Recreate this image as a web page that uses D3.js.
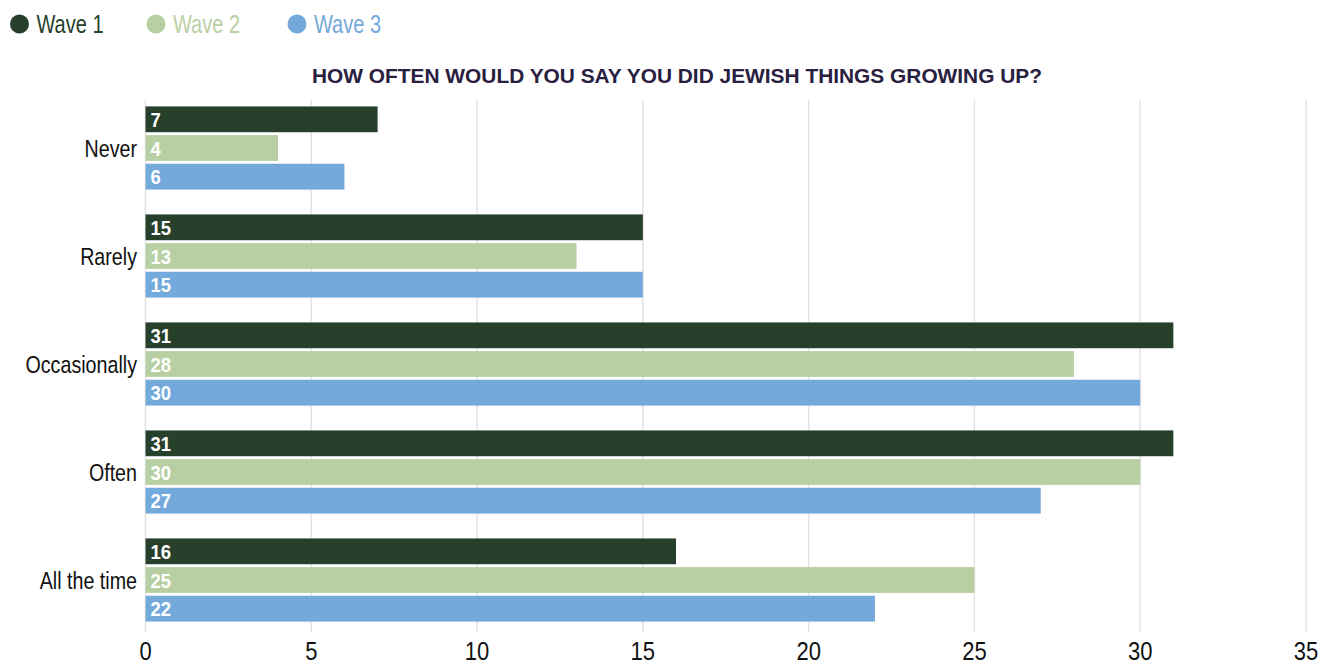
<!DOCTYPE html>
<html>
<head>
<meta charset="utf-8">
<script src="https://cdn.jsdelivr.net/npm/d3@7"></script>
<style>
  body { margin: 0; background: #fff; }
  svg { display: block; font-family: "Liberation Sans", Arial, sans-serif; }
</style>
</head>
<body>
<svg width="1332" height="665"></svg>
<script>
// Data
const categories = ['Never', 'Rarely', 'Occasionally', 'Often', 'All the time'];
const waves = ['Wave 1', 'Wave 2', 'Wave 3'];
const wave1 = [7, 15, 31, 31, 16];
const wave2 = [4, 13, 28, 30, 25];
const wave3 = [6, 15, 30, 27, 22];
const xTicks = [0, 5, 10, 15, 20, 25, 30, 35];
const title = 'HOW OFTEN WOULD YOU SAY YOU DID JEWISH THINGS GROWING UP?';

const seriesValues = [wave1, wave2, wave3];
const colors = ['#27402b', '#b8cfa3', '#73a9db'];

const svg = d3.select('svg');

// the original font is a condensed grotesque, squeeze Liberation Sans to match
const place = (x, y, k) => `translate(${x},${y}) scale(${k},1)`;

// Scales
const xScale = d3.scaleLinear().domain([0, 35]).range([145.5, 1306]);

const yScale = d3.scaleBand()
  .domain(categories)
  .range([94, 634])
  .paddingInner(0.23)
  .paddingOuter(0.115);

const waveScale = d3.scaleBand()
  .domain(waves)
  .range([0, yScale.bandwidth()])
  .paddingInner(0.1);

const colScale = d3.scaleOrdinal().domain(waves).range(colors);

// Gridlines
svg.append('g')
  .selectAll('line')
  .data(xTicks)
  .enter()
  .append('line')
  .attr('x1', d => xScale(d))
  .attr('x2', d => xScale(d))
  .attr('y1', 100)
  .attr('y2', 632)
  .style('stroke', '#e2e2e2')
  .style('stroke-width', 1.5);

// Tick labels
svg.append('g')
  .selectAll('text')
  .data(xTicks)
  .enter()
  .append('text')
  .text(d => d)
  .attr('transform', d => place(xScale(d), 660, 0.88))
  .attr('text-anchor', 'middle')
  .style('font-size', '25px')
  .style('fill', '#111');

// Title
svg.append('text')
  .text(title)
  .attr('x', 312)
  .attr('y', 83)
  .attr('textLength', 730)
  .attr('lengthAdjust', 'spacingAndGlyphs')
  .style('font-size', '19.5px')
  .style('font-weight', 'bold')
  .style('fill', '#28203f');

// Bars
const rows = categories.map((c, i) => ({
  cat: c,
  vals: waves.map((w, j) => ({ wave: w, value: seriesValues[j][i] }))
}));

const groups = svg.append('g')
  .selectAll('g')
  .data(rows)
  .enter()
  .append('g')
  .attr('transform', d => `translate(0,${yScale(d.cat)})`);

groups.selectAll('rect')
  .data(d => d.vals)
  .enter()
  .append('rect')
  .attr('x', xScale(0))
  .attr('y', d => waveScale(d.wave))
  .attr('width', d => xScale(d.value) - xScale(0))
  .attr('height', waveScale.bandwidth())
  .attr('fill', d => colScale(d.wave));

groups.selectAll('text.val')
  .data(d => d.vals)
  .enter()
  .append('text')
  .attr('class', 'val')
  .text(d => d.value)
  .attr('transform', d => place(xScale(0) + 5, waveScale(d.wave) + waveScale.bandwidth() / 2 + 7.5, 0.88))
  .style('font-size', '21px')
  .style('font-weight', 'bold')
  .style('fill', '#fff');

// Category labels
svg.append('g')
  .selectAll('text')
  .data(categories)
  .enter()
  .append('text')
  .text(d => d)
  .attr('transform', d => place(137, yScale(d) + yScale.bandwidth() / 2 + 8.5, 0.82))
  .attr('text-anchor', 'end')
  .style('font-size', '24px')
  .style('fill', '#111');

// Legend
const legendX = [19.5, 156, 297];
const legend = svg.append('g')
  .selectAll('g')
  .data(waves)
  .enter()
  .append('g')
  .attr('transform', (d, i) => `translate(${legendX[i]},24)`);

legend.append('circle')
  .attr('r', 9.5)
  .attr('fill', d => colScale(d));

legend.append('text')
  .text(d => d)
  .attr('transform', place(17, 9, 0.8))
  .style('font-size', '25px')
  .style('fill', d => colScale(d));
</script>
</body>
</html>
